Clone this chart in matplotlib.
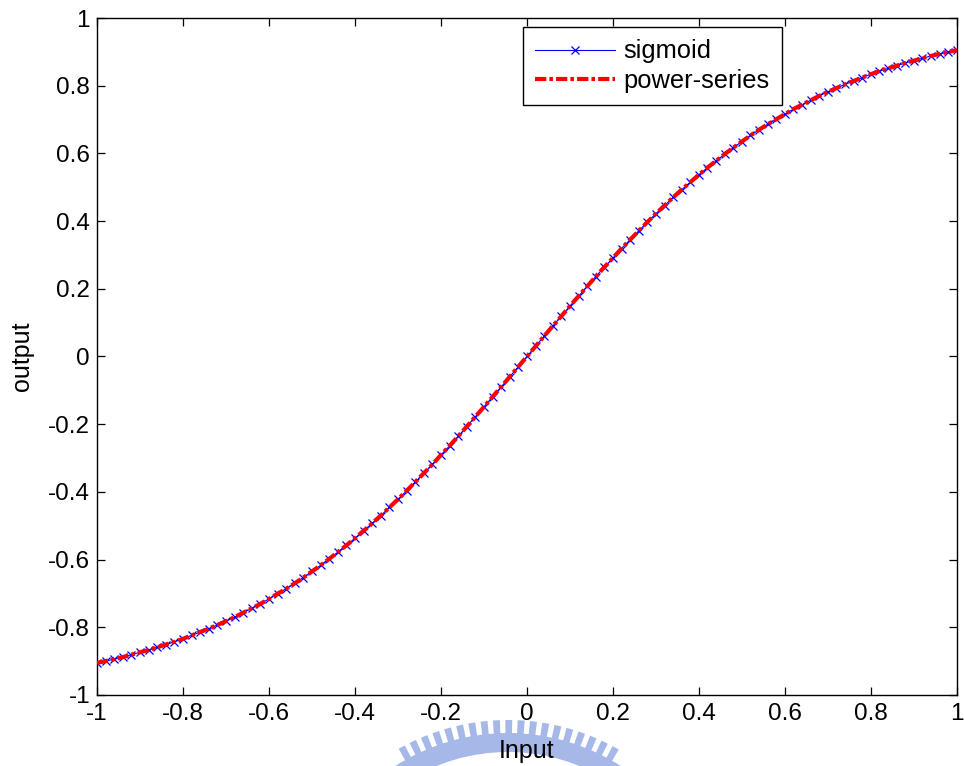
import numpy as np
import matplotlib
matplotlib.use("Agg")
import matplotlib.pyplot as plt
from matplotlib.patches import Wedge

# ---- data ----
x_pos = [0.00, 0.02, 0.04, 0.06, 0.08, 0.10, 0.12, 0.14, 0.16, 0.18,
         0.20, 0.22, 0.24, 0.26, 0.28, 0.30, 0.32, 0.34, 0.36, 0.38,
         0.40, 0.42, 0.44, 0.46, 0.48, 0.50, 0.52, 0.54, 0.56, 0.58,
         0.60, 0.62, 0.64, 0.66, 0.68, 0.70, 0.72, 0.74, 0.76, 0.78,
         0.80, 0.82, 0.84, 0.86, 0.88, 0.90, 0.92, 0.94, 0.96, 0.98, 1.00]
sigmoid_pos = [0.000, 0.030, 0.060, 0.090, 0.119, 0.149, 0.178, 0.207, 0.236, 0.264,
               0.291, 0.319, 0.345, 0.371, 0.397, 0.422, 0.446, 0.470, 0.493, 0.515,
               0.537, 0.558, 0.578, 0.598, 0.617, 0.635, 0.653, 0.670, 0.686, 0.701,
               0.716, 0.731, 0.744, 0.757, 0.770, 0.782, 0.793, 0.804, 0.814, 0.824,
               0.834, 0.843, 0.851, 0.859, 0.867, 0.874, 0.881, 0.888, 0.894, 0.900, 0.905]
power_pos = [0.000, 0.030, 0.060, 0.090, 0.119, 0.149, 0.178, 0.207, 0.236, 0.264,
             0.291, 0.319, 0.345, 0.371, 0.397, 0.422, 0.446, 0.470, 0.493, 0.515,
             0.537, 0.558, 0.578, 0.598, 0.617, 0.635, 0.653, 0.670, 0.686, 0.701,
             0.716, 0.731, 0.744, 0.757, 0.770, 0.782, 0.793, 0.804, 0.814, 0.824,
             0.834, 0.843, 0.851, 0.859, 0.867, 0.874, 0.881, 0.888, 0.894, 0.900, 0.905]

# the curve is odd-symmetric: mirror the read half
x = [-v for v in x_pos[:0:-1]] + x_pos
sigmoid = [-v for v in sigmoid_pos[:0:-1]] + sigmoid_pos
power_series = [-v for v in power_pos[:0:-1]] + power_pos

xticks = [-1, -0.8, -0.6, -0.4, -0.2, 0, 0.2, 0.4, 0.6, 0.8, 1]
yticks = [-1, -0.8, -0.6, -0.4, -0.2, 0, 0.2, 0.4, 0.6, 0.8, 1]
tick_text = ["-1", "-0.8", "-0.6", "-0.4", "-0.2", "0", "0.2", "0.4", "0.6", "0.8", "1"]

plt.rcParams['font.family'] = ['Liberation Sans', 'DejaVu Sans']

fig = plt.figure(figsize=(9.64, 7.66), dpi=100)

# faint watermark logo behind the x label (pixel coordinates)
bg = fig.add_axes([0, 0, 1, 1], zorder=-1)
bg.set_xlim(0, 964)
bg.set_ylim(766, 0)
bg.axis('off')
wm_col = '#a6b8e8'
cx, cy = 508, 942
bg.add_patch(Wedge((cx, cy), 209, 237, 303, width=19, facecolor=wm_col,
                   edgecolor='none'))
for a in np.arange(240.5, 299.5, 3.2):
    bg.add_patch(Wedge((cx, cy), 222, a, a + 1.8, width=15, facecolor=wm_col,
                       edgecolor='none'))

ax = fig.add_axes([0.1006, 0.0927, 0.892, 0.8838])

ax.plot(x, sigmoid, color='#0000ff', linewidth=0.8, marker='x', markersize=6,
        markeredgewidth=0.9, label='sigmoid', zorder=2)
ax.plot(x, power_series, color='#ff0000', linewidth=3, linestyle='-.',
        dashes=(2.7, 0.75, 0.85, 0.75), label='power-series', zorder=3)

ax.set_xlim(-1, 1)
ax.set_ylim(-1, 1)
ax.set_xticks(xticks)
ax.set_xticklabels(tick_text, fontsize=17.5)
ax.set_yticks(yticks)
ax.set_yticklabels(tick_text, fontsize=17.5)
ax.tick_params(direction='in', length=6, width=0.9, top=True, right=True,
               colors='black')
ax.tick_params(axis='x', pad=6)
ax.tick_params(axis='y', pad=5)
for s in ax.spines.values():
    s.set_linewidth(1.0)
    s.set_color('black')

ax.set_xlabel('Input', fontsize=18, labelpad=10)
ax.set_ylabel('output', fontsize=18, labelpad=10)

leg = ax.legend(loc='upper left', bbox_to_anchor=(522.7/964, 1 - 26.7/766),
                bbox_transform=fig.transFigure, fontsize=18.4, fancybox=False,
                framealpha=1, edgecolor='black', handlelength=3.1,
                borderpad=0.5, labelspacing=0.2, handletextpad=0.34,
                borderaxespad=0)
leg.get_frame().set_linewidth(1.0)

fig.savefig('out.png', dpi=100)
